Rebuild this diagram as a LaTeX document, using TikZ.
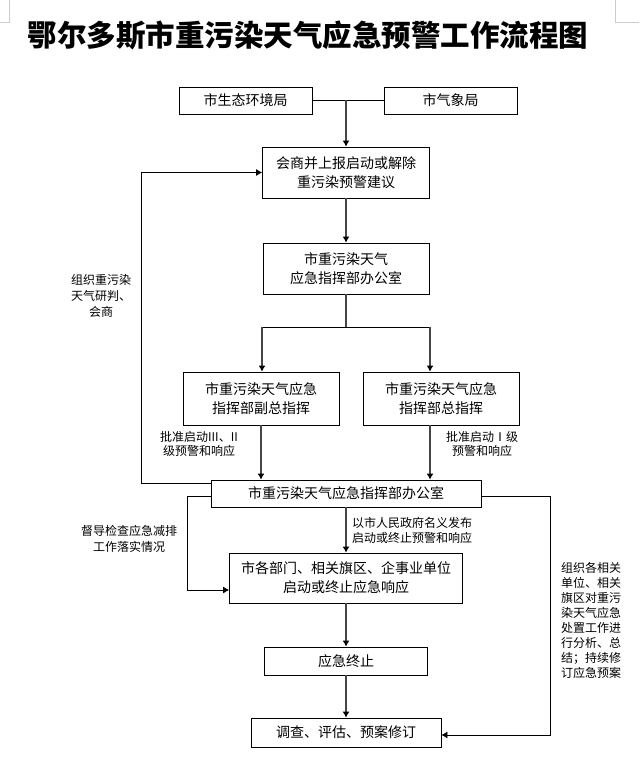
\documentclass[tikz,border=0pt]{standalone}
\usepackage{fontspec}
\setmainfont{Noto Sans CJK SC}
\usetikzlibrary{arrows.meta}

\begin{document}
\begin{tikzpicture}[x=1pt,y=-1pt,
    box/.style={draw,line width=0.8pt,inner sep=0pt,align=center,font=\fontsize{14}{19}\selectfont},
    note/.style={align=center,inner sep=0pt,font=\fontsize{12}{15}\selectfont},
    flow/.style={->,>={Latex[length=6pt,width=7pt,color=black]},line width=1.3pt,gray!55!black},
    link/.style={line width=0.8pt},
    back/.style={->,>={Latex[length=6pt,width=7pt]},line width=0.8pt}]
    \useasboundingbox (0,0) rectangle (639,770);
    \draw[gray!40] (0,22) -- (9,22) -- (9,0);
    \draw[gray!40] (639,22) -- (615,22) -- (615,0);
    \node (title) at (308,35) {\fontsize{29.5}{30}\selectfont\bfseries 鄂尔多斯市重污染天气应急预警工作流程图};
    \node[box,minimum width=133,minimum height=27] (env) at (245.5,100.5) {市生态环境局};
    \node[box,minimum width=133,minimum height=27] (met) at (450.5,100.5) {市气象局};
    \coordinate (j) at (346,100.5);
    \node[box,minimum width=167,minimum height=51] (consult) at (346,172.5) {会商并上报启动或解除\\重污染预警建议};
    \node[box,minimum width=166,minimum height=51] (office) at (346,268.5) {市重污染天气\\应急指挥部办公室};
    \coordinate (split) at (346,327);
    \coordinate (sl) at (262,327);
    \coordinate (sr) at (430,327);
    \node[box,minimum width=156,minimum height=53] (vice) at (261,398.5) {市重污染天气应急\\指挥部副总指挥};
    \node[box,minimum width=156,minimum height=53] (chief) at (441,398.5) {市重污染天气应急\\指挥部总指挥};
    \node[box,minimum width=270,minimum height=27] (cmd) at (346,493.5) {市重污染天气应急指挥部办公室};
    \node[box,minimum width=233,minimum height=50] (depts) at (346,578) {市各部门、相关旗区、企事业单位\\启动或终止应急响应};
    \node[box,minimum width=163,minimum height=28] (stop) at (346,661) {应急终止};
    \node[box,minimum width=190,minimum height=29] (review) at (346,732.5) {调查、评估、预案修订};
    % labels
    \node[note,font=\fontsize{12}{16}\selectfont] (studyl) at (101,296) {组织重污染\\天气研判、\\会商};
    \node[note,font=\fontsize{12}{14.5}\selectfont] (vicel) at (199,444) {批准启动III、II\\级预警和响应};
    \node[note,font=\fontsize{12}{14.5}\selectfont] (chiefl) at (482,444) {批准启动Ⅰ级\\预警和响应};
    \node[note,align=left,anchor=west] (issuel) at (352,530) {以市人民政府名义发布\\启动或终止预警和响应};
    \node[note,font=\fontsize{12}{16}\selectfont] (superl) at (129,539) {督导检查应急减排\\工作落实情况};
    \node[note] (sumup) at (591,620.5) {组织各相关\\单位、相关\\旗区对重污\\染天气应急\\处置工作进\\行分析、总\\结；持续修\\订应急预案};
    % connectors
    \draw[link] (env) -- (met);
    \draw[flow] (j) -- (consult);
    \draw[flow] (consult) -- (office);
    \draw[flow,-] (office) -- (split);
    \draw[link] (sl) -- (sr);
    \draw[flow] (sl) -- (sl |- vice.north);
    \draw[flow] (sr) -- (sr |- chief.north);
    \draw[flow] (vice.south) -- (vice.south |- cmd.north);
    \draw[flow] (sr |- chief.south) -- (sr |- cmd.north);
    \draw[flow] (cmd) -- (depts);
    \draw[flow] (depts) -- (stop);
    \draw[flow] (stop) -- (review);
    \draw[back] ([yshift=10.5pt]cmd.west) -- ++(-69,0) |- (consult.west);
    \draw[back] ([yshift=-2.5pt]cmd.west) -- ++(-23,0) |- ([yshift=-12pt]depts.west);
    \draw[back] ([yshift=-2.5pt]cmd.east) -- ++(69,0) |- ([yshift=-2.5pt]review.east);
\end{tikzpicture}
\end{document}
